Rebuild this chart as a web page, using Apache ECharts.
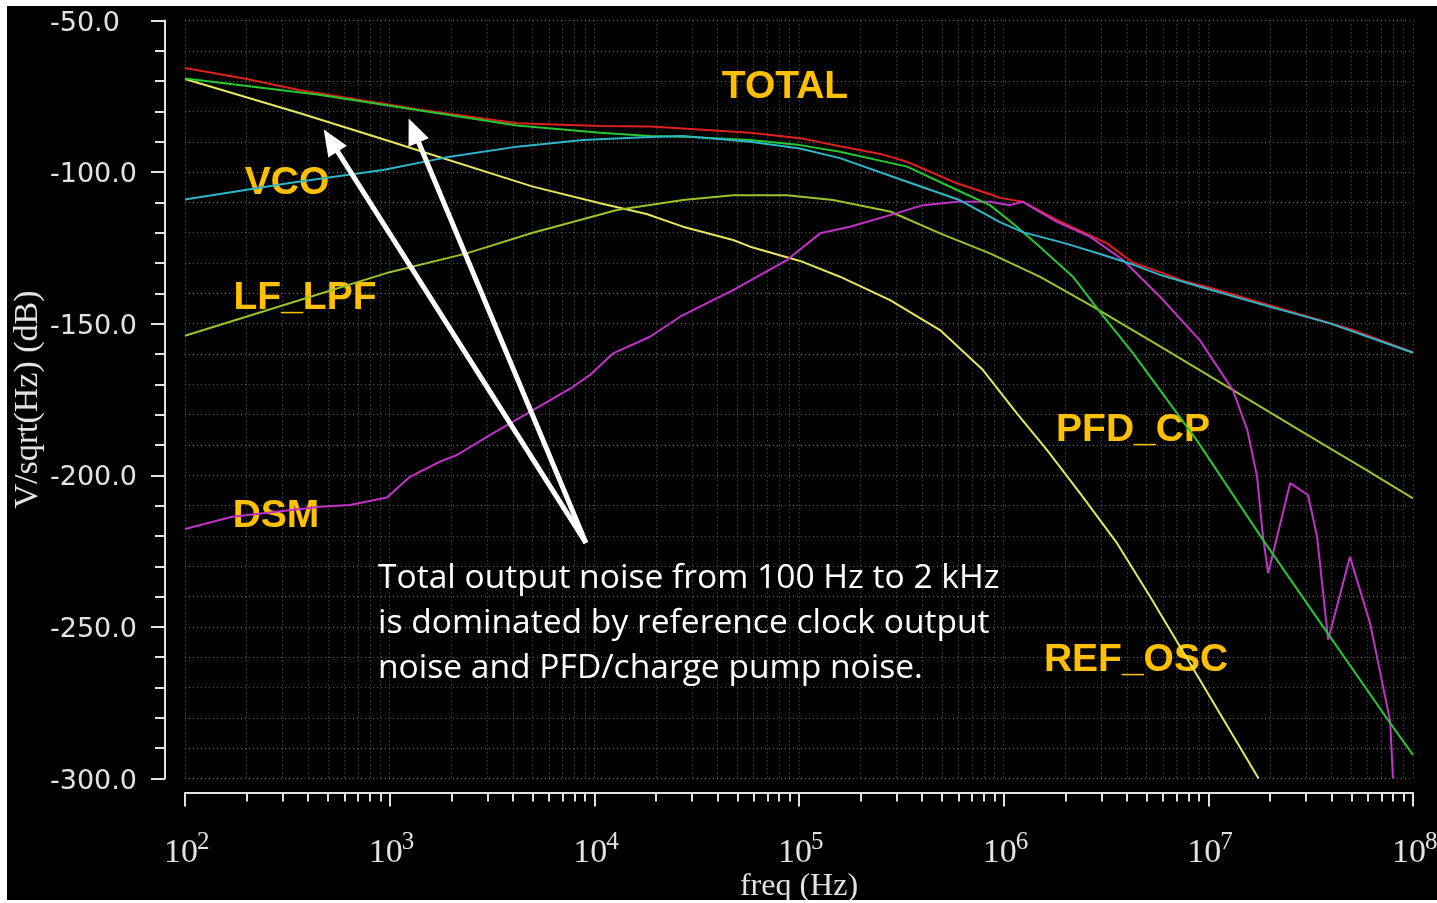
<!DOCTYPE html>
<html>
<head>
<meta charset="utf-8">
<title>PLL output noise contributions</title>
<script src="https://cdn.jsdelivr.net/npm/echarts@6/dist/echarts.min.js"></script>
<style>
  html, body { margin: 0; padding: 0; background: #ffffff; width: 1437px; height: 903px; overflow: hidden; }
  #chart { position: absolute; left: 7px; top: 6px; width: 1430px; height: 894px; background: #000000; }
</style>
</head>
<body>
<div id="chart"></div>
<script>
// Noise contributions, [frequency in Hz, noise in dB re V/sqrt(Hz)]
const totalNoise = [
  [100, -65.7], [200, -69.3], [365, -73.0], [1000, -77.8], [1361, -79.3], [4188, -83.9],
  [10670, -84.8], [18710, -85.0], [27100, -85.6], [57680, -87.0], [101200, -88.8],
  [158500, -91.5], [250000, -94.0], [337300, -96.6], [591600, -103.7], [857000, -107.3],
  [959400, -108.5], [1.24e6, -109.8], [1.82e6, -115.8], [3.2e6, -123.5], [4.29e6, -129.9],
  [5.81e6, -133.0], [7.52e6, -135.9], [1e7, -138.0], [2e7, -144.0], [5e7, -151.9], [1e8, -159.4]
];
const pfdCpNoise = [
  [100, -69.1], [442, -74.4], [1361, -79.5], [4188, -84.6], [10670, -87.0], [18710, -88.1],
  [27100, -88.3], [57680, -89.4], [101200, -91.1], [158500, -93.3], [337300, -98.2],
  [591600, -105.9], [857000, -110.9], [1.16e6, -118.0], [1.5e6, -124.6], [2.18e6, -134.5],
  [2.96e6, -146.2], [4.29e6, -159.8], [5.81e6, -171.9], [8.77e6, -188.4], [1.85e7, -221.3],
  [3.93e7, -253.2], [7.73e7, -281.7], [1e8, -292.2]
];
const refOscNoise = [
  [100, -69.3], [365, -80.6], [1000, -89.8], [1361, -92.7], [5012, -104.8], [10670, -110.3],
  [18000, -113.8], [27100, -118.0], [47640, -122.4], [57680, -124.6], [101200, -129.3],
  [158500, -134.5], [278600, -142.2], [488700, -152.1], [792500, -165.3], [1.16e6, -179.6],
  [1.63e6, -191.7], [2.36e6, -205.9], [3.58e6, -222.4], [5.19e6, -240.0], [9.1e6, -267.5],
  [1.76e7, -300.0]
];
const vcoNoise = [
  [100, -109.0], [337, -103.4], [927, -99.3], [1972, -94.9], [4188, -91.6], [8810, -89.4],
  [18710, -88.4], [27100, -88.1], [57680, -90.0], [101200, -92.2], [158500, -95.4],
  [337300, -103.2], [612400, -109.3], [959400, -116.5], [1.24e6, -119.8], [2e6, -123.5],
  [2.96e6, -127.0], [4.28e6, -130.5], [5.81e6, -133.9], [9.1e6, -137.8], [1.85e7, -143.8],
  [3.93e7, -149.9], [1e8, -159.6]
];
const lfLpfNoise = [
  [100, -154.0], [365, -142.2], [1000, -133.0], [2377, -126.8], [5000, -120.0], [12900, -112.5],
  [27100, -109.2], [47640, -107.6], [87300, -107.6], [146600, -109.2], [278600, -113.0],
  [488700, -120.2], [857000, -126.8], [1.5e6, -134.5], [2.73e6, -144.4], [5.81e6, -157.5],
  [1.32e7, -171.9], [2.8e7, -185.2], [5.96e7, -198.4], [1e8, -207.6]
];
const dsmNoise = [
  [100, -217.7], [170, -213.7], [457, -210.4], [640, -209.8], [970, -207.3], [1256, -200.5],
  [1762, -195.5], [2133, -193.3], [2985, -187.3], [5012, -178.5], [7870, -170.8], [9528, -166.9],
  [12330, -159.8], [18710, -154.3], [26240, -147.7], [47640, -138.9], [87300, -129.0],
  [126800, -120.2], [177400, -118.0], [278600, -114.2], [403600, -110.9], [591600, -109.8],
  [857000, -109.8], [1.07e6, -110.9], [1.24e6, -109.8], [1.82e6, -116.4], [2.64e6, -121.3],
  [3.83e6, -129.0], [5.81e6, -141.1], [9.1e6, -155.5], [1.32e7, -172.0], [1.55e7, -185.0],
  [1.73e7, -200.4], [1.85e7, -220.3], [1.96e7, -232.3], [2.51e7, -202.6], [3.07e7, -206.5],
  [3.4e7, -220.3], [3.85e7, -254.3], [4.92e7, -226.9], [6.17e7, -248.8], [7.73e7, -281.0],
  [7.98e7, -300.0]
];

// Axis ranges and ticks
const freqMin = 1e2, freqMax = 1e8;
const decadeTicks = [1e2, 1e3, 1e4, 1e5, 1e6, 1e7, 1e8];
const decadeSteps = [1, 2, 3, 4, 5, 6, 7, 8, 9];
const dbMin = -300, dbMax = -50, dbStep = 50;

// Text annotations
const curveLabels = [
  { text: 'TOTAL', x: 778, y: 81 },
  { text: 'VCO', x: 280, y: 177 },
  { text: 'LF_LPF', x: 298, y: 292 },
  { text: 'DSM', x: 269, y: 510 },
  { text: 'PFD_CP', x: 1126, y: 424 },
  { text: 'REF_OSC', x: 1129, y: 654 }
];
const noteLines = [
  'Total output noise from 100 Hz to 2 kHz',
  'is dominated by reference clock output',
  'noise and PFD/charge pump noise.'
];
// Arrows from the note up to the low-frequency total / PFD curves
const arrowTail = [9100, -222.3];
const arrowHeads = [[515, -89.6], [1310, -86.3]];

const minorFreqTicks = [];
decadeTicks.forEach(d => decadeSteps.forEach(k => {
  const v = d * k;
  if (v <= freqMax) minorFreqTicks.push(v);
}));

const axisColor = '#e2e2e2';
const gridDots = { color: '#5e5e5e', width: 1, type: [1, 3] };
const serifFont = 'Liberation Serif';

const chart = echarts.init(document.getElementById('chart'), null, { renderer: 'canvas' });

function lineSeries(name, data, color) {
  return {
    name, type: 'line', data, xAxisIndex: 0, yAxisIndex: 0,
    showSymbol: false, symbol: 'none', smooth: false, animation: false,
    lineStyle: { color, width: 2 }, z: 3
  };
}

// A bottom log axis sharing the frequency range, used for one layer of ticks/labels
function freqAxis(extra) {
  return Object.assign({
    type: 'log', logBase: 10, min: freqMin, max: freqMax,
    position: 'bottom', offset: 14,
    axisLine: { show: false }, axisTick: { show: false },
    axisLabel: { show: false }, splitLine: { show: false }
  }, extra);
}

const option = {
  backgroundColor: '#000000',
  animation: false,
  grid: {
    left: 178, right: 24, top: 14.5, bottom: 121.5,
    containLabel: false, outerBoundsMode: 'none'
  },
  xAxis: [
    // axis line, minor ticks and dotted grid at 1..9 x 10^n
    freqAxis({
      axisLine: { show: true, lineStyle: { color: axisColor, width: 2 } },
      axisTick: { show: true, customValues: minorFreqTicks, length: 9, lineStyle: { color: axisColor, width: 2 } },
      splitLine: { show: true, lineStyle: gridDots }
    }),
    // decade ticks, mantissa "10" and axis title
    freqAxis({
      axisTick: { show: true, customValues: decadeTicks, length: 14, lineStyle: { color: axisColor, width: 2 } },
      axisLabel: {
        show: true, customValues: decadeTicks, margin: 44,
        align: 'center', padding: [0, 8, 0, 0],
        fontFamily: serifFont, fontSize: 34, color: axisColor,
        formatter: () => '10'
      },
      name: 'freq (Hz)', nameLocation: 'middle', nameGap: 78, nameMoveOverlap: false,
      nameTextStyle: { fontFamily: serifFont, fontSize: 32, color: axisColor }
    }),
    // decade exponents, raised
    freqAxis({
      axisLabel: {
        show: true, customValues: decadeTicks, margin: 37,
        align: 'left', padding: [0, 0, 0, 12],
        fontFamily: serifFont, fontSize: 25, color: axisColor,
        formatter: v => String(Math.round(Math.log10(v)))
      }
    })
  ],
  yAxis: {
    type: 'value', min: dbMin, max: dbMax, interval: dbStep,
    position: 'left', offset: 20,
    axisLine: { show: true, lineStyle: { color: axisColor, width: 2 } },
    axisTick: { show: true, length: 14, lineStyle: { color: axisColor, width: 2 } },
    minorTick: { show: true, splitNumber: 5, length: 10, lineStyle: { color: axisColor, width: 2 } },
    axisLabel: {
      margin: 115, align: 'left', color: axisColor,
      fontFamily: 'DejaVu Sans', fontSize: 27,
      formatter: v => '{v|' + v.toFixed(1) + '}',
      rich: { v: { fontFamily: 'DejaVu Sans', fontSize: 27, color: axisColor, padding: [6, 0, 0, 0] } }
    },
    splitLine: { show: true, lineStyle: gridDots },
    minorSplitLine: { show: true, lineStyle: gridDots },
    name: 'V/sqrt(Hz) (dB)', nameLocation: 'middle', nameGap: 120, nameMoveOverlap: false,
    nameTextStyle: { fontFamily: serifFont, fontSize: 34, color: axisColor }
  },
  graphic: [
    ...curveLabels.map(l => ({
      type: 'text', x: l.x, y: l.y, z: 1, silent: true,
      style: {
        text: l.text, fill: '#FFC000', align: 'center', verticalAlign: 'middle',
        font: 'bold 39px "Liberation Sans", Arial, sans-serif'
      }
    })),
    {
      type: 'text', x: 371, y: 550, z: 20, silent: true,
      style: {
        text: noteLines.join('\n'), fill: '#ffffff', align: 'left', verticalAlign: 'top',
        font: '33.6px "Open Sans", Lato, sans-serif', lineHeight: 45
      }
    }
  ],
  series: [
    lineSeries('TOTAL', totalNoise, '#e0201e'),
    lineSeries('REF_OSC', refOscNoise, '#e8e45c'),
    lineSeries('LF_LPF', lfLpfNoise, '#9cc22c'),
    lineSeries('DSM', dsmNoise, '#c232c8'),
    lineSeries('PFD_CP', pfdCpNoise, '#26c832'),
    lineSeries('VCO', vcoNoise, '#2eb6c8'),
    {
      name: 'note arrows', type: 'line', data: [], z: 10, animation: false,
      markLine: {
        silent: true, animation: false,
        symbol: ['none', 'triangle'], symbolSize: [22, 26],
        lineStyle: { color: '#ffffff', width: 5, type: 'solid' },
        label: { show: false },
        data: arrowHeads.map(h => [{ coord: arrowTail }, { coord: h }])
      }
    }
  ]
};

chart.setOption(option);
</script>
</body>
</html>
